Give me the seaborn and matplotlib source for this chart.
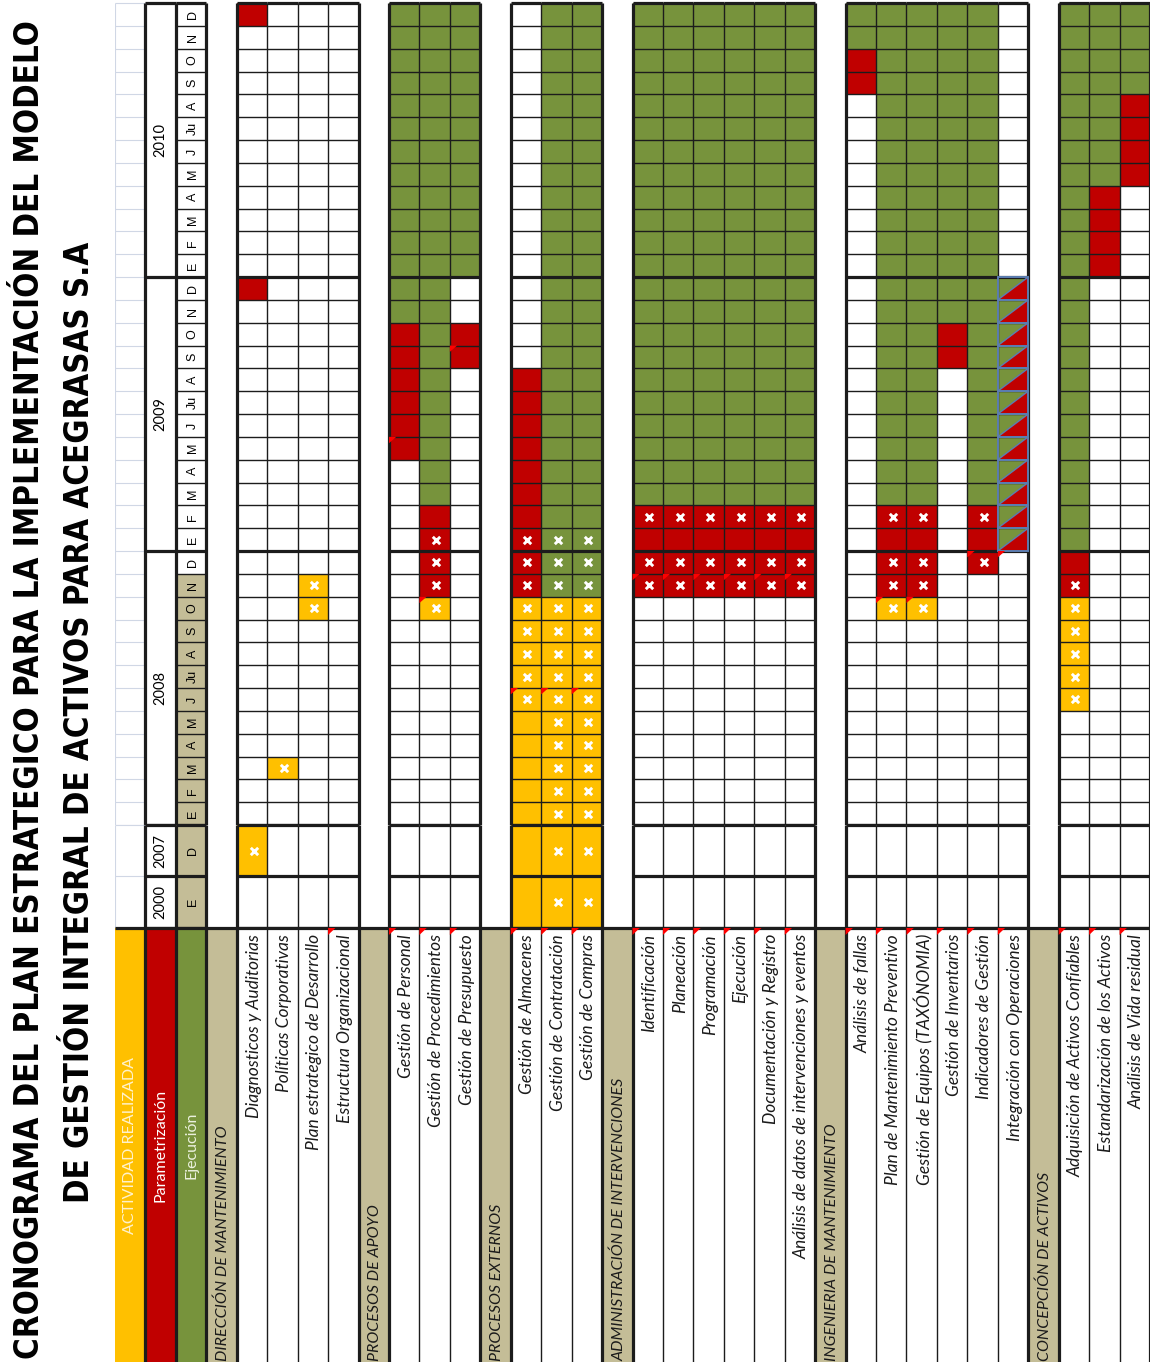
import numpy as np
import pandas as pd
import seaborn as sns
import matplotlib.pyplot as plt
from matplotlib.colors import ListedColormap
from matplotlib.patches import Polygon, Rectangle

plt.rcParams['font.family'] = ['Lato', 'DejaVu Sans']

# ---------------- data ----------------
title_1 = "CRONOGRAMA DEL PLAN ESTRATEGICO PARA LA IMPLEMENTACIÓN DEL MODELO"
title_2 = "DE GESTIÓN INTEGRAL DE ACTIVOS PARA ACEGRASAS S.A"

years = [2010, 2009, 2008]
month_letters = ["D", "N", "O", "S", "A", "Ju", "J", "M", "A", "M", "F", "E"]   # dic -> ene
extra_periods = [("2007", "D"), ("2000", "E")]
shaded_months = {"2008": month_letters[1:], "2007": ["D"], "2000": ["E"]}

legend_labels = ["ACTIVIDAD REALIZADA", "Parametrización", "Ejecución"]
legend_text_colors = ["#FFF2CC", "#FFFFFF", "#EBF1DE"]

sections = ["DIRECCIÓN DE MANTENIMIENTO", "PROCESOS DE APOYO", "PROCESOS EXTERNOS",
            "ADMINISTRACIÓN DE INTERVENCIONES", "INGENIERIA DE MANTENIMIENTO",
            "CONCEPCIÓN DE ACTIVOS"]
direccion = ["Diagnosticos y Auditorias", "Políticas Corporativas",
             "Plan estrategico de Desarrollo", "Estructura Organizacional"]
apoyo = ["Gestión de Personal", "Gestión de Procedimientos", "Gestión de Presupuesto"]
externos = ["Gestión de Almacenes", "Gestión de Contratación", "Gestión de Compras"]
admin = ["Identificación", "Planeación", "Programación", "Ejecución",
         "Documentación y Registro", "Análisis de datos de intervenciones y eventos"]
ingenieria = ["Análisis de fallas", "Plan de Mantenimiento Preventivo",
              "Gestión de Equipos (TAXÓNOMIA)", "Gestión de Inventarios",
              "Indicadores de Gestión", "Integración con Operaciones"]
concepcion = ["Adquisición de Activos Confiables", "Estandarización de los Activos",
              "Análisis de Vida residual"]
activities = [direccion, apoyo, externos, admin, ingenieria, concepcion]

# rows from top: 2010 D..E | 2009 D..E | 2008 D..E | 2007 D, 2000 E
# . empty  Y realizada  R parametrizacion  G ejecucion  D mixto ; lower case = marked with x
schedule = {
    "Diagnosticos y Auditorias":      "R........... R........... ............ y.",
    "Políticas Corporativas":         "............ ............ .........y.. ..",
    "Plan estrategico de Desarrollo": "............ ............ .yy......... ..",
    "Estructura Organizacional":      "............ ............ ............ ..",
    "Gestión de Personal":            "GGGGGGGGGGGG GGRRRRRR.... ............ ..",
    "Gestión de Procedimientos":      "GGGGGGGGGGGG GGGGGGGGGGRr rry......... ..",
    "Gestión de Presupuesto":         "GGGGGGGGGGGG ..RR........ ............ ..",
    "Gestión de Almacenes":           "............ ....RRRRRRRr rryyyyyYYYYY YY",
    "Gestión de Contratación":        "GGGGGGGGGGGG GGGGGGGGGGGg ggyyyyyyyyyy yy",
    "Gestión de Compras":             "GGGGGGGGGGGG GGGGGGGGGGGg ggyyyyyyyyyy yy",
    "Identificación":                 "GGGGGGGGGGGG GGGGGGGGGGrR rr.......... ..",
    "Planeación":                     "GGGGGGGGGGGG GGGGGGGGGGrR rr.......... ..",
    "Programación":                   "GGGGGGGGGGGG GGGGGGGGGGrR rr.......... ..",
    "Ejecución":                      "GGGGGGGGGGGG GGGGGGGGGGrR rr.......... ..",
    "Documentación y Registro":       "GGGGGGGGGGGG GGGGGGGGGGrR rr.......... ..",
    "Análisis de datos de intervenciones y eventos":
                                      "GGGGGGGGGGGG GGGGGGGGGGrR rr.......... ..",
    "Análisis de fallas":             "GGRR........ ............ ............ ..",
    "Plan de Mantenimiento Preventivo": "GGGGGGGGGGGG GGGGGGGGGGrR rry......... ..",
    "Gestión de Equipos (TAXÓNOMIA)": "GGGGGGGGGGGG GGGGGGGGGGrR rry......... ..",
    "Gestión de Inventarios":         "GGGGGGGGGGGG GGRR........ ............ ..",
    "Indicadores de Gestión":         "GGGGGGGGGGGG GGGGGGGGGGrR r........... ..",
    "Integración con Operaciones":    "............ DDDDDDDDDDDD ............ ..",
    "Adquisición de Activos Confiables": "GGGGGGGGGGGG GGGGGGGGGGGG Rryyyyy..... ..",
    "Estandarización de los Activos": "GGGGGGGGRRRR ............ ............ ..",
    "Análisis de Vida residual":      "GGGGRRRR.... ............ ............ ..",
}

# cells with a comment marker: (activity, year, month number)
comment_cells = [("Gestión de Personal", 2009, 5), ("Gestión de Presupuesto", 2009, 9),
                 ("Gestión de Procedimientos", 2008, 10),
                 ("Gestión de Almacenes", 2008, 6), ("Gestión de Contratación", 2008, 6),
                 ("Gestión de Compras", 2008, 6),
                 ("Plan de Mantenimiento Preventivo", 2008, 10),
                 ("Gestión de Equipos (TAXÓNOMIA)", 2008, 10),
                 ("Indicadores de Gestión", 2008, 12), ("Integración con Operaciones", 2008, 12)]
comment_cells += [(a, 2008, 11) for a in admin]
labels_without_comment = direccion[:3]

# ---------------- table structure ----------------
columns = [("blank", ""), ("year", ""), ("month", "")]
for sec, acts in zip(sections, activities):
    columns.append(("section", sec))
    columns += [("act", a) for a in acts]
ncol = len(columns)
col_of = {name: j for j, (k, name) in enumerate(columns) if k == "act"}

row_year, row_month = [], []
for y in years:
    for m in month_letters:
        row_year.append(str(y))
        row_month.append(m)
for y, m in extra_periods:
    row_year.append(y)
    row_month.append(m)
nrow = len(row_year)
n_top = 12 * len(years)

code_val = {".": 0, "Y": 1, "y": 1, "R": 2, "r": 2, "G": 3, "g": 3, "D": 3}
grid = np.zeros((nrow, ncol))
marks, diag = [], []
for j, (kind, name) in enumerate(columns):
    if kind == "month":
        for i in range(nrow):
            y = row_year[i]
            if y in shaded_months and (y != "2008" or i % 12 != 0):
                grid[i, j] = 4
    if kind == "act":
        s = schedule[name].replace(" ", "")
        for i, ch in enumerate(s):
            grid[i, j] = code_val[ch]
            if ch in "yrg":
                marks.append((i, j))
            if ch == "D":
                diag.append((i, j))

head_vals = [1, 2, 3] + [4 if k == "section" else 0 for k, _ in columns[3:]]

# ---------------- drawing ----------------
W, H = 1150, 1362
fig = plt.figure(figsize=(W / 100, H / 100), dpi=100)
fig.patch.set_facecolor("white")


def frame(x0, y0, x1, y1):
    return [x0 / W, 1 - y1 / H, (x1 - x0) / W, (y1 - y0) / H]


ax_top = fig.add_axes(frame(115, 3, 1150, 825))
ax_mid = fig.add_axes(frame(115, 825, 1150, 928))
ax_head = fig.add_axes(frame(115, 928, 1150, 1362))

cmap = ListedColormap(["#FFFFFF", "#FFC000", "#C00000", "#77933C", "#C4BD97"])
kw = dict(cmap=cmap, vmin=-0.5, vmax=4.5, cbar=False, xticklabels=False,
          yticklabels=False, linewidths=0)
sns.heatmap(pd.DataFrame(grid[:n_top]), ax=ax_top, **kw)
sns.heatmap(pd.DataFrame(grid[n_top:]), ax=ax_mid, **kw)
sns.heatmap(pd.DataFrame([head_vals]), ax=ax_head, **kw)

DARK, LIGHT, BLUE = "#1c1c1c", "#D0D7E5", "#5B7DB1"
THIN, THICK = 1.0, 2.3
year_rows = {0, 12, 24, 36, 37, 38}


def heavy_v(j):
    if j <= 0 or j >= ncol:
        return True
    return not (columns[j - 1][0] == "act" and columns[j][0] == "act")


def draw_rules(ax, r0, r1):
    n = r1 - r0
    segs = {"thin": ([], [], []), "thick": ([], [], []), "light": ([], [], [])}
    for j, (kind, _) in enumerate(columns):
        for k in range(n + 1):
            heavy = (r0 + k) in year_rows
            if kind in ("act", "month"):
                key = "thick" if heavy else "thin"
            elif kind == "year" and heavy:
                key = "thick"
            elif kind == "blank":
                key = "light"
            else:
                continue
            segs[key][0].append(k)
            segs[key][1].append(j)
            segs[key][2].append(j + 1)
    ax.hlines(*segs["light"], color=LIGHT, lw=0.8, clip_on=False)
    ax.hlines(*segs["thin"], color=DARK, lw=THIN, clip_on=False)
    ax.hlines(*segs["thick"], color=DARK, lw=THICK, clip_on=False)
    for j in range(1, ncol + 1):
        ax.vlines(j, 0, n, color=DARK, lw=THICK if heavy_v(j) else THIN, clip_on=False)
    ax.vlines(0, 0, n, color=LIGHT, lw=0.8)


draw_rules(ax_top, 0, n_top)
draw_rules(ax_mid, n_top, nrow)

# header rules
ax_head.hlines(0, 0, ncol, color=DARK, lw=THICK, clip_on=False)
for j in range(1, ncol + 1):
    ax_head.vlines(j, 0, 1, color=DARK, lw=THICK if heavy_v(j) else THIN, clip_on=False)


def cell_axis(i):
    return (ax_top, i) if i < n_top else (ax_mid, i - n_top)


# mixed cells (ejecucion + parametrizacion)
for i, j in diag:
    ax, r = cell_axis(i)
    ax.add_patch(Polygon([(j, r + 1), (j + 1, r + 1), (j + 1, r)], closed=True,
                         facecolor="#C00000", edgecolor="none", zorder=2))
    ax.plot([j, j + 1], [r + 1, r], color=BLUE, lw=1.0, zorder=3)
    ax.add_patch(Rectangle((j, r), 1, 1, fill=False, edgecolor=BLUE, lw=1.4, zorder=4))

# x marks
for on_mid in (False, True):
    pts = [(j + 0.55, cell_axis(i)[1] + 0.5) for i, j in marks if (i >= n_top) == on_mid]
    if pts:
        ax = ax_mid if on_mid else ax_top
        xs, ys = zip(*pts)
        ax.scatter(xs, ys, marker="x", s=28, c="white", linewidths=2.1, zorder=5)

# comment markers
for act, y, mnum in comment_cells:
    i = years.index(y) * 12 + (12 - mnum)
    j = col_of[act]
    ax, r = cell_axis(i)
    ax.add_patch(Polygon([(j, r), (j + 0.24, r), (j, r + 0.28)], closed=True,
                         facecolor="#FF0000", edgecolor="none", zorder=6))

# year and month labels
for b, y in enumerate(years):
    ax_top.text(1.5, 12 * b + 6, str(y), rotation=90, ha="center", va="center", fontsize=10.5)
for i in range(n_top):
    ax_top.text(2.55, i + 0.5, row_month[i], rotation=90, ha="center", va="center",
                fontsize=9, family=["Liberation Sans", "DejaVu Sans"])
for k, (y, m) in enumerate(extra_periods):
    ax_mid.text(1.5, k + 0.5, y, rotation=90, ha="center", va="center", fontsize=10.5)
    ax_mid.text(2.55, k + 0.5, m, rotation=90, ha="center", va="center", fontsize=9,
                family=["Liberation Sans", "DejaVu Sans"])

# header labels
for j, (lab, col) in enumerate(zip(legend_labels, legend_text_colors)):
    ax_head.text(j + 0.5, 0.5, lab, rotation=90, ha="center", va="center",
                 color=col, fontsize=11.5)
for j, (kind, name) in enumerate(columns):
    if kind == "section":
        ax_head.text(j + 0.55, 0.997, name, rotation=90, rotation_mode="anchor",
                     ha="left", va="center", fontsize=11.5, style="italic", color="#1a1a1a")
    elif kind == "act":
        ax_head.text(j + 0.55, 0.014, name, rotation=90, rotation_mode="anchor",
                     ha="right", va="center", fontsize=12.5, style="italic", color="#1a1a1a")
        if name not in labels_without_comment:
            ax_head.add_patch(Polygon([(j, 0), (j + 0.24, 0), (j, 0.016)], closed=True,
                                      facecolor="#FF0000", edgecolor="none", zorder=6))

# title, shrunk so the first line spans the same height as in the original
t1 = fig.text(30 / W, 1 - 690 / H, title_1, rotation=90, ha="center", va="center",
              fontsize=30, fontweight="bold", family="DejaVu Sans", fontstretch="condensed")
t2 = fig.text(80 / W, 1 - 722 / H, title_2, rotation=90, ha="center", va="center",
              fontsize=30, fontweight="bold", family="DejaVu Sans", fontstretch="condensed")
fig.canvas.draw()
length = t1.get_window_extent(fig.canvas.get_renderer()).height
size = min(30, 30 * 1335 / length)
t1.set_fontsize(size)
t2.set_fontsize(size)

fig.savefig("out.png", dpi=100)
